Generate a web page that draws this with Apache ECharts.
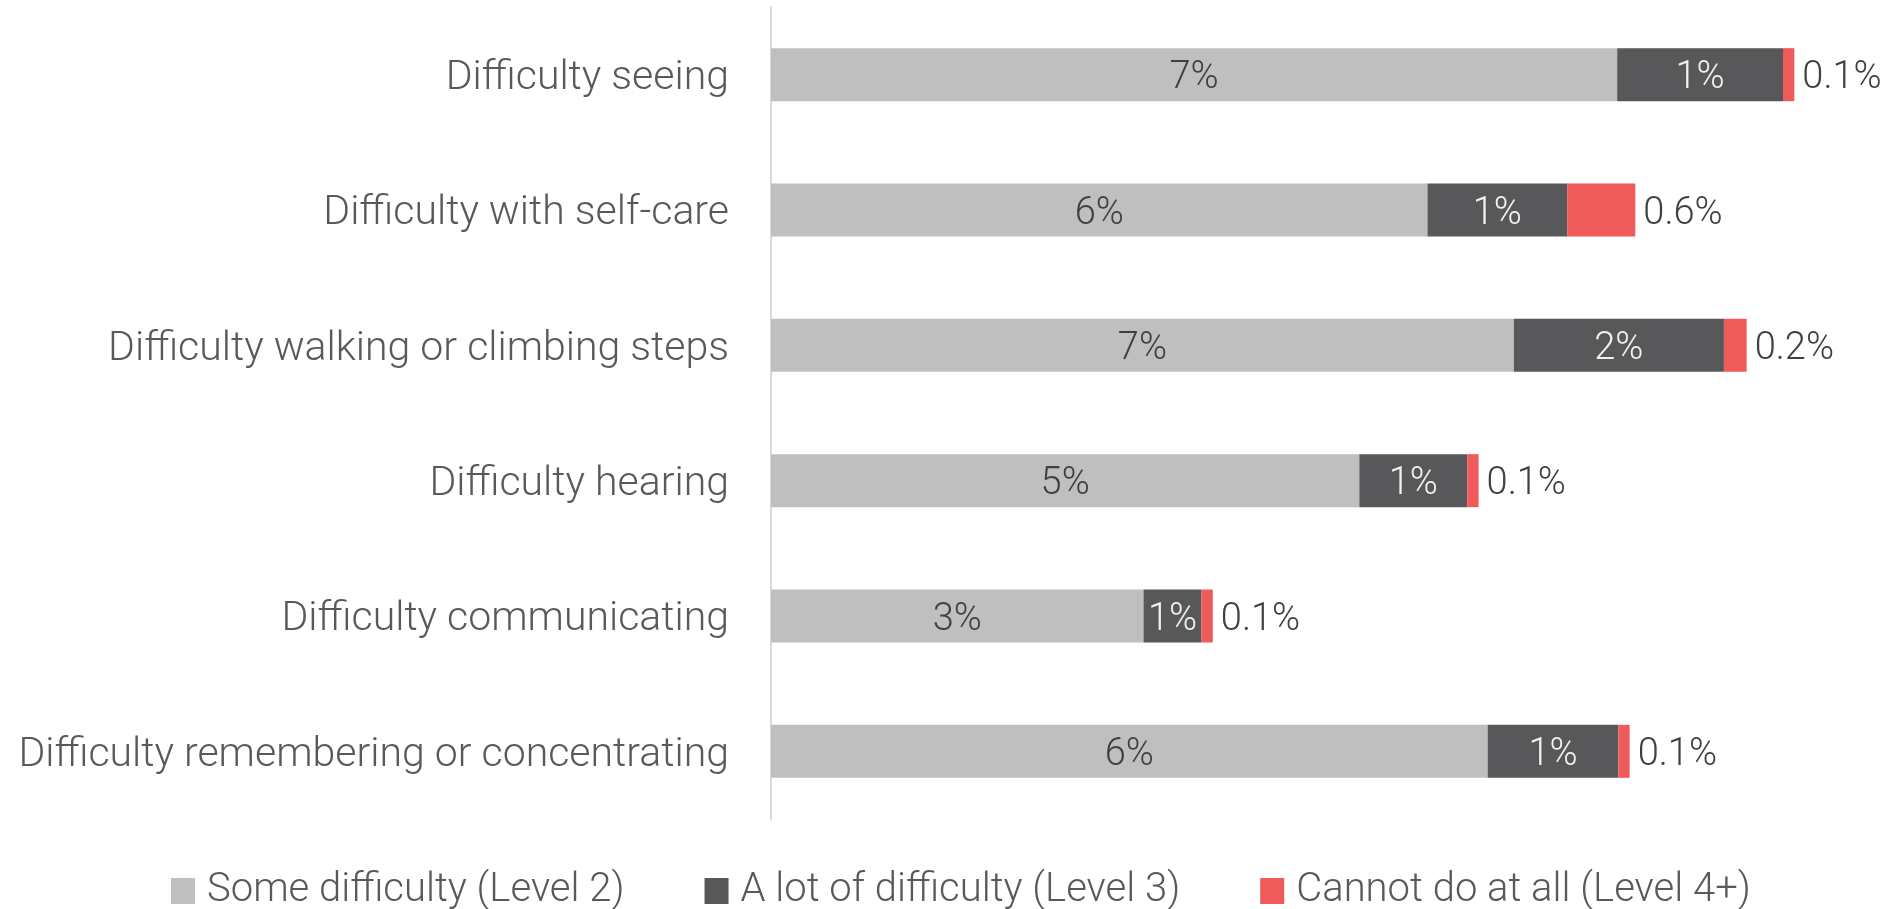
<!DOCTYPE html>
<html>
<head>
<meta charset="utf-8">
<style>
  html, body { margin: 0; padding: 0; background: #fff; }
  #chart { width: 1895px; height: 909px; }
</style>
<script src="https://cdn.jsdelivr.net/npm/echarts@6/dist/echarts.min.js"></script>
</head>
<body>
<div id="chart"></div>
<script>
  // categories top to bottom as shown
  var categories = [
    'Difficulty seeing',
    'Difficulty with self-care',
    'Difficulty walking or climbing steps',
    'Difficulty hearing',
    'Difficulty communicating',
    'Difficulty remembering or concentrating'
  ];
  var seriesNames = ['Some difficulty (Level 2)', 'A lot of difficulty (Level 3)', 'Cannot do at all (Level 4+)'];
  var level2 = [7.45, 5.78, 6.54, 5.18, 3.28, 6.31];
  var level3 = [1.46, 1.23, 1.85, 0.95, 0.51, 1.15];
  var level4 = [0.1, 0.6, 0.2, 0.1, 0.1, 0.1];

  var FONT = 'Roboto';

  var chart = echarts.init(document.getElementById('chart'), null, { renderer: 'canvas' });
  chart.setOption({
    animation: false,
    textStyle: { fontFamily: FONT },
    grid: { left: 771, right: 45, top: 7, bottom: 90 },
    legend: {
      bottom: -7,
      left: 166,
      itemWidth: 24,
      itemHeight: 26,
      itemGap: 80,
      icon: 'rect',
      textStyle: { color: '#595959', fontFamily: FONT, fontWeight: 300, fontSize: 40, padding: [0, 0, 0, 7] },
      data: seriesNames
    },
    xAxis: {
      type: 'value',
      min: 0,
      max: 9.5,
      show: false
    },
    yAxis: {
      type: 'category',
      inverse: true,
      data: categories,
      axisLine: { show: true, lineStyle: { color: '#d9d9d9', width: 2 } },
      axisTick: { show: false },
      axisLabel: {
        margin: 42,
        formatter: function(v) { return '{a|' + v + '}'; },
        rich: {
          a: { color: '#595959', fontFamily: FONT, fontWeight: 300, fontSize: 41, padding: [8, 0, 0, 0] }
        }
      }
    },
    series: [
      {
        name: seriesNames[0], type: 'bar', stack: 'all', data: level2, barWidth: 53,
        itemStyle: { color: '#BFBFBF' },
        label: {
          show: true, position: 'inside', color: '#404040', offset: [0, 4],
          fontFamily: FONT, fontWeight: 300, fontSize: 38,
          formatter: function(p) { return Math.round(p.value) + '%'; }
        }
      },
      {
        name: seriesNames[1], type: 'bar', stack: 'all', data: level3, barWidth: 53,
        itemStyle: { color: '#58585A' },
        label: {
          show: true, position: 'inside', color: '#f2f2f2', offset: [0, 4],
          fontFamily: FONT, fontWeight: 300, fontSize: 38,
          formatter: function(p) { return Math.round(p.value) + '%'; }
        }
      },
      {
        name: seriesNames[2], type: 'bar', stack: 'all', data: level4, barWidth: 53,
        itemStyle: { color: '#EF5A5B' },
        label: {
          show: true, position: 'right', distance: 8, color: '#404040', offset: [0, 4],
          fontFamily: FONT, fontWeight: 300, fontSize: 38,
          formatter: function(p) { return p.value.toFixed(1) + '%'; }
        }
      }
    ]
  });
</script>
</body>
</html>
